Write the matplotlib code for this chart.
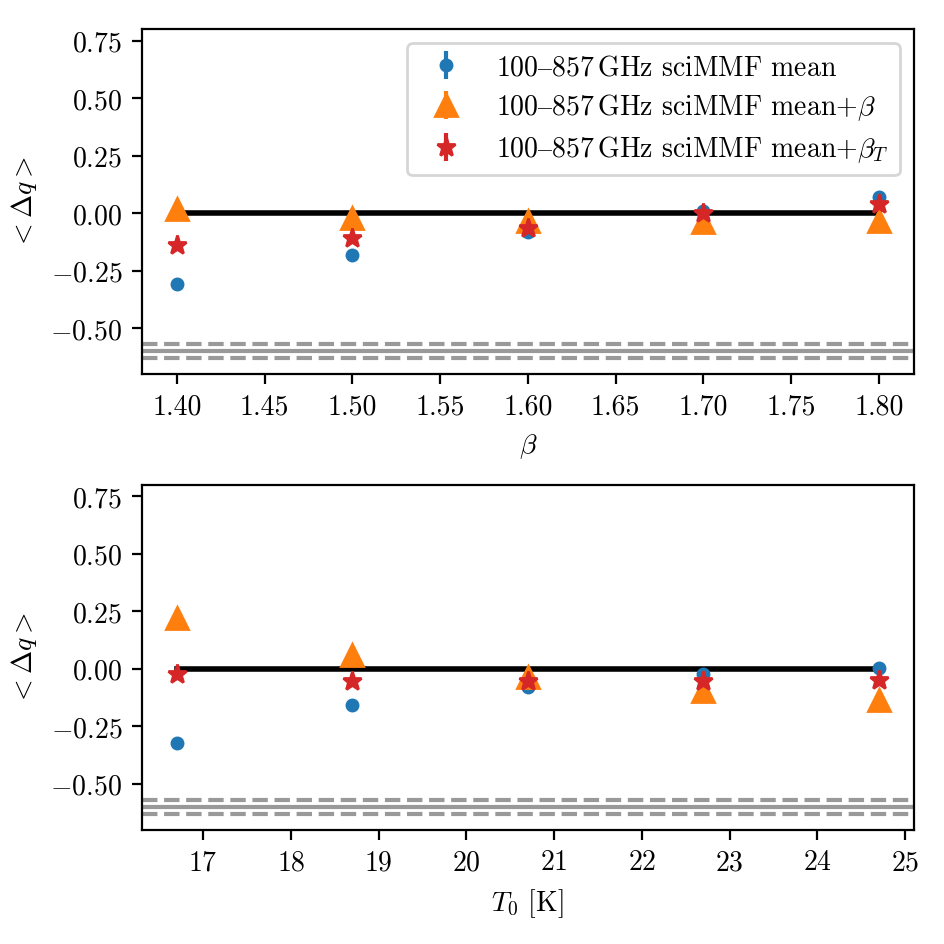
import matplotlib
matplotlib.use("Agg")
import matplotlib.pyplot as plt
import numpy as np

plt.rcParams['font.family'] = ['serif']
plt.rcParams['font.serif'] = ['cmr10', 'DejaVu Serif']
plt.rcParams['mathtext.fontset'] = 'cm'
plt.rcParams['axes.formatter.use_mathtext'] = True
plt.rcParams['font.size'] = 10

# valores
beta = [1.40, 1.50, 1.60, 1.70, 1.80]
beta_mean = [-0.31, -0.18, -0.08, 0.01, 0.07]
beta_mean_err = [0.025, 0.02, 0.02, 0.02, 0.02]
beta_mb = [0.02, -0.02, -0.035, -0.04, -0.035]
beta_mb_err = [0.03, 0.02, 0.02, 0.02, 0.02]
beta_mbt = [-0.14, -0.11, -0.065, 0.0, 0.04]
beta_mbt_err = [0.025, 0.025, 0.02, 0.02, 0.02]

t0 = [16.7, 18.7, 20.7, 22.7, 24.7]
t0_mean = [-0.325, -0.16, -0.08, -0.025, 0.005]
t0_mean_err = [0.025, 0.02, 0.02, 0.02, 0.02]
t0_mb = [0.22, 0.06, -0.035, -0.095, -0.135]
t0_mb_err = [0.03, 0.02, 0.02, 0.02, 0.02]
t0_mbt = [-0.025, -0.055, -0.055, -0.055, -0.05]
t0_mbt_err = [0.025, 0.02, 0.02, 0.02, 0.02]

ref_q = -0.6
ref_q_err = 0.03

labels = [r"100$\mathrm{–}$857$\,$GHz sciMMF mean",
          r"100$\mathrm{–}$857$\,$GHz sciMMF mean+$\beta$",
          r"100$\mathrm{–}$857$\,$GHz sciMMF mean+$\beta_T$"]


def painel(ax, x, series, xlabel, legenda=False):
    ax.plot([x[0], x[-1]], [0, 0], color='k', lw=2, zorder=1)
    estilos = [('o', 'tab:blue', 4), ('^', 'tab:orange', 8), ('*', 'tab:red', 7)]
    for (y, e), (m, c, ms), lab in zip(series, estilos, labels):
        ax.errorbar(x, y, yerr=e, fmt=m, color=c, ms=ms, label=lab, zorder=2)
    ax.axhline(ref_q, color='0.6', lw=1.5)
    ax.axhline(ref_q + ref_q_err, color='0.6', lw=1.5, ls='--')
    ax.axhline(ref_q - ref_q_err, color='0.6', lw=1.5, ls='--')
    ax.set_ylim(-0.7, 0.8)
    ax.set_xlabel(xlabel)
    ax.set_ylabel(r"$<\Delta q>$")
    if legenda:
        ax.legend(loc='upper right', labelspacing=0.4)


fig = plt.figure(figsize=(4.725, 4.725), dpi=200)
ax1 = fig.add_axes([0.150, 0.603, 0.817, 0.365])
ax2 = fig.add_axes([0.150, 0.121, 0.817, 0.365])

painel(ax1, beta, [(beta_mean, beta_mean_err), (beta_mb, beta_mb_err), (beta_mbt, beta_mbt_err)],
       r"$\beta$", legenda=True)
painel(ax2, t0, [(t0_mean, t0_mean_err), (t0_mb, t0_mb_err), (t0_mbt, t0_mbt_err)],
       r"$T_0$ [K]")
ax1.xaxis.set_major_formatter(matplotlib.ticker.FormatStrFormatter('%.2f'))

fig.savefig("out.png", dpi=200)
